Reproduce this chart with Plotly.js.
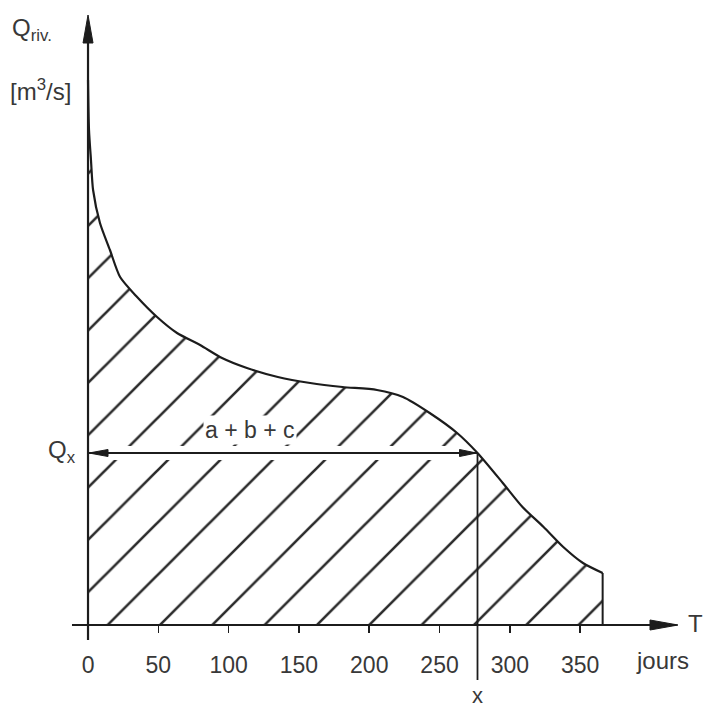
<!DOCTYPE html>
<html>
<head>
<meta charset="utf-8">
<script src="https://cdn.plot.ly/plotly-3.0.1.min.js"></script>
<style>html,body{margin:0;padding:0;background:#fff;}#chart{width:705px;height:708px;}</style>
</head>
<body>
<div id="chart"></div>
<script>
// Flow duration curve: days T (jours) vs river discharge Q (arbitrary units)
var days = [0, 0.7, 2.1, 3.6, 8.5, 15.6, 22.8, 34.9, 49.1, 63.3, 79.7, 95.3, 113, 135, 158, 181, 205.5, 224, 243, 262.5, 277, 295, 309, 324, 338, 352, 366];
var discharge = [54.5, 49.5, 46.5, 43.5, 40.2, 37.5, 34.8, 32.8, 30.8, 29.2, 28.0, 26.7, 25.7, 24.8, 24.2, 23.8, 23.5, 22.8, 21.2, 19.2, 17.2, 14.2, 11.8, 9.8, 7.8, 6.2, 5.2];
var tickValues = [0, 50, 100, 150, 200, 250, 300, 350];
var tickLabels = ['0', '50', '100', '150', '200', '250', '300', '350'];
var xDay = 277;      // day x
var qX = 17.2;       // Q_x
var tEnd = days[days.length - 1];
var qEnd = discharge[discharge.length - 1];

var X_MIN = -62.6, X_MAX = 438.8, Y_MIN = -8.3, Y_MAX = 62.5;
var X_AXIS_START = -11.4, X_AXIS_TIP = 419.6;
var Y_AXIS_START = -1.5, Y_AXIS_TIP = 61.0;
var X_LINE_BOTTOM = -5.5;

var ink = '#1c1c1c';
var txt = '#383838';
var fontFam = 'Liberation Sans, Arial, Helvetica, sans-serif';

var curve = {
  x: days, y: discharge, type: 'scatter', mode: 'lines',
  line: {color: ink, width: 2.2, shape: 'spline', smoothing: 0.7},
  fill: 'tozeroy', fillcolor: 'rgba(255,255,255,0)',
  fillpattern: {shape: '/', size: 37, solidity: 0.07, fgcolor: '#2a2a2a', bgcolor: 'rgba(255,255,255,0)', fgopacity: 1},
  hoverinfo: 'skip', showlegend: false
};

function lineShape(x0, y0, x1, y1, w, col) {
  return {type: 'line', xref: 'x', yref: 'y', x0: x0, y0: y0, x1: x1, y1: y1,
          line: {color: col || ink, width: w}};
}
function arrowHead(xa, ya, path) {
  return {type: 'path', xref: 'x', yref: 'y', xsizemode: 'pixel', ysizemode: 'pixel',
          xanchor: xa, yanchor: ya, path: path, fillcolor: ink, line: {color: ink, width: 1}};
}

var shapes = [
  // gap in hatching around the Qx arrow
  {type: 'rect', xref: 'x', yref: 'y', x0: 0.8, x1: xDay - 9, y0: qX - 0.7, y1: qX + 0.7,
   fillcolor: '#fff', line: {width: 0}},
  lineShape(0, Y_AXIS_START, 0, Y_AXIS_TIP - 1, 2.2),
  lineShape(X_AXIS_START, 0, X_AXIS_TIP - 1, 0, 1.8),
  lineShape(tEnd, 0, tEnd, qEnd, 2),
  lineShape(xDay, qX, xDay, X_LINE_BOTTOM, 1.8),
  lineShape(0, qX, xDay, qX, 1.8),
  arrowHead(0, Y_AXIS_TIP, 'M0,0 L-5,-28 L5,-28 Z'),
  arrowHead(X_AXIS_TIP, 0, 'M0,0 L-28,-5 L-28,5 Z'),
  arrowHead(0, qX, 'M1,0 L20,-3.5 L20,3.5 Z'),
  arrowHead(xDay, qX, 'M-1,0 L-18,-3.5 L-18,3.5 Z')
];

function label(text, x, y, xref, yref, xanchor, size, extra) {
  var a = {text: text, x: x, y: y, xref: xref, yref: yref, xanchor: xanchor, yanchor: 'middle',
           showarrow: false, font: {family: fontFam, size: size, color: txt}};
  if (extra) for (var k in extra) a[k] = extra[k];
  return a;
}

var annotations = [
  label('Q<sub>riv.</sub>', 10 / 705, 1 - 29 / 708, 'paper', 'paper', 'left', 24),
  label('[m<sup>3</sup>/s]', 8 / 705, 1 - 90 / 708, 'paper', 'paper', 'left', 24),
  label('Q<sub>x</sub>', 78 / 705, qX + 0.2, 'paper', 'y', 'right', 24),
  label('a + b + c', 115, 19.5, 'x', 'y', 'center', 23, {bgcolor: '#fff'}),
  label('T', 1, 1 - 623 / 708, 'paper', 'paper', 'right', 24),
  label('jours', 662 / 705, 1 - 660 / 708, 'paper', 'paper', 'center', 24),
  label('x', xDay, 1 - 695 / 708, 'x', 'paper', 'center', 22)
];

var layout = {
  width: 705, height: 708,
  margin: {l: 0, r: 0, t: 0, b: 0},
  paper_bgcolor: '#fff', plot_bgcolor: '#fff',
  showlegend: false,
  xaxis: {range: [X_MIN, X_MAX], anchor: 'free', position: (708 - 625) / 708,
          tickvals: tickValues, ticktext: tickLabels, ticks: 'outside', ticklen: 7, tickwidth: 1.6,
          tickcolor: ink, showgrid: false, zeroline: false, showline: false,
          ticklabelstandoff: 12,
          tickfont: {family: fontFam, size: 23, color: txt}, fixedrange: true},
  yaxis: {range: [Y_MIN, Y_MAX], visible: false, showgrid: false, zeroline: false, fixedrange: true},
  shapes: shapes,
  annotations: annotations
};

Plotly.newPlot('chart', [curve], layout, {staticPlot: true, displayModeBar: false});
</script>
</body>
</html>
